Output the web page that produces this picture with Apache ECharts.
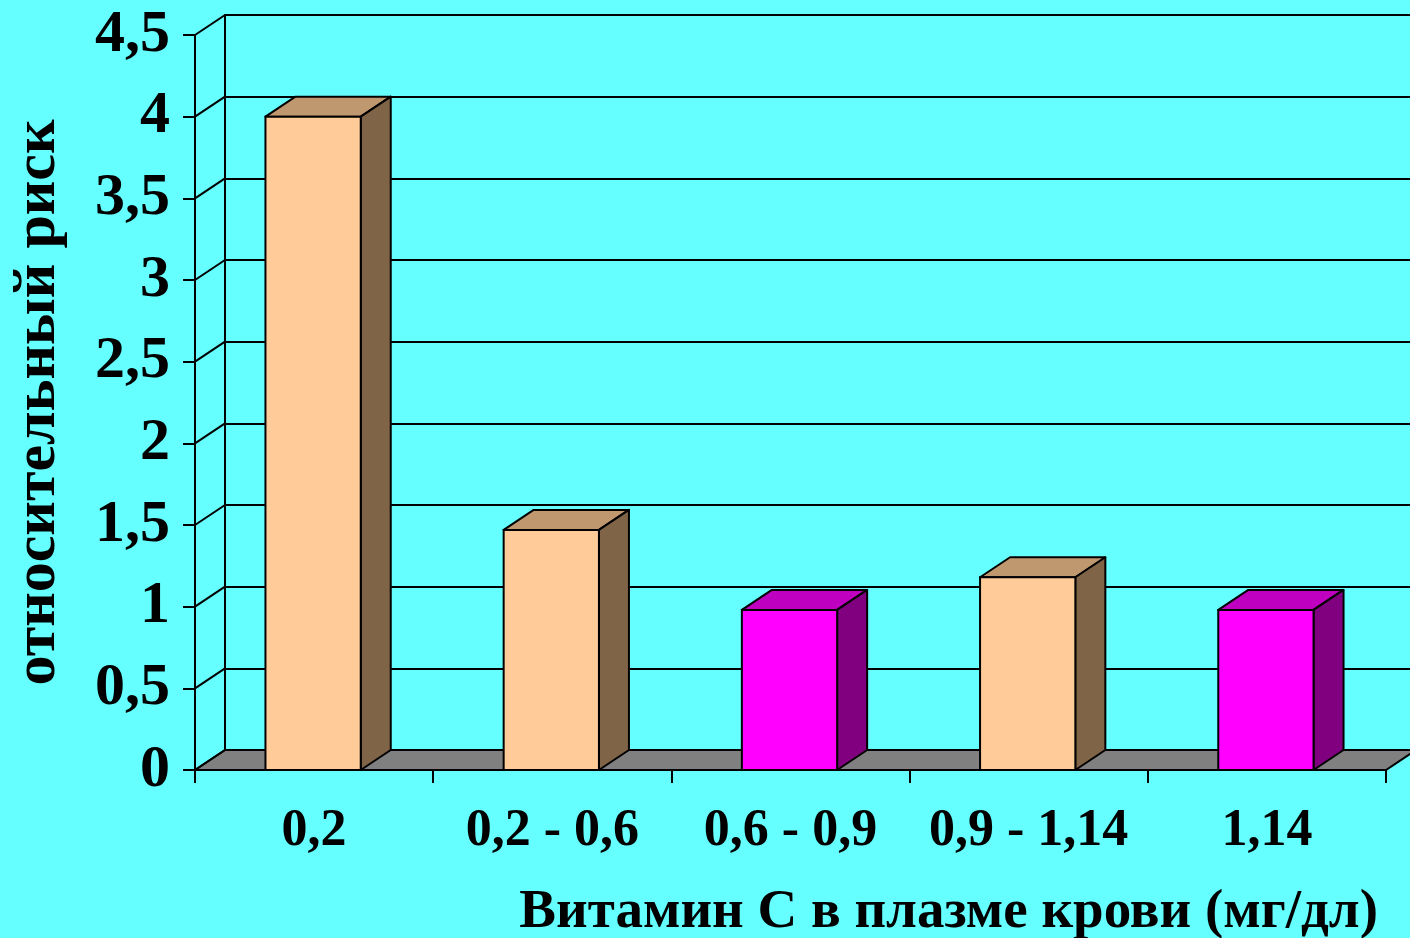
<!DOCTYPE html>
<html>
<head>
<meta charset="utf-8">
<script src="https://cdn.jsdelivr.net/npm/echarts@6/dist/echarts.min.js"></script>
<style>
  html, body { margin: 0; padding: 0; background: #66ffff; }
  #chart { width: 1410px; height: 938px; }
</style>
</head>
<body>
<div id="chart"></div>
<script>
// Plasma vitamin C groups and the relative risk in each
const categories = ['0,2', '0,2 - 0,6', '0,6 - 0,9', '0,9 - 1,14', '1,14'];
const relativeRisk = [4.0, 1.47, 0.98, 1.18, 0.98];
const highlighted = [false, false, true, false, true];
const yTicks = [0, 0.5, 1, 1.5, 2, 2.5, 3, 3.5, 4, 4.5];
const xTitle = 'Витамин С в плазме крови (мг/дл)';
const yTitle = 'относительный риск';

// pseudo-3D depth of the bars and of the back wall, in pixels
const DEPTH_X = 30;
const DEPTH_Y = -20;
const FONT = '"Liberation Serif", "Times New Roman", serif';
const INK = '#000000';
const palettes = {
  normal: { front: '#ffcc99', top: '#c09870', side: '#806448' },
  accent: { front: '#ff00ff', top: '#c000c0', side: '#800080' }
};

const fmt = v => String(v).replace('.', ',');

// floor of the plot box
function renderFloor(params, api) {
  const cs = params.coordSys;
  const y0 = api.coord([0, 0])[1];
  const xl = cs.x, xr = cs.x + cs.width;
  return {
    type: 'polygon',
    shape: { points: [[xl, y0], [xr, y0], [xr + DEPTH_X, y0 + DEPTH_Y], [xl + DEPTH_X, y0 + DEPTH_Y]] },
    style: { fill: '#808080', stroke: INK, lineWidth: 2 }
  };
}

// slanted links from the front value axis to the back wall
function renderLink(params, api) {
  const cs = params.coordSys;
  const y = api.coord([0, api.value(1)])[1];
  return {
    type: 'line',
    shape: { x1: cs.x, y1: y, x2: cs.x + DEPTH_X, y2: y + DEPTH_Y },
    style: { stroke: INK, lineWidth: 2 }
  };
}

// box-shaped bar: front face, top and right side
function renderBar(params, api) {
  const i = api.value(0);
  const v = api.value(1);
  const top = api.coord([i, v]);
  const base = api.coord([i, 0]);
  const w = api.size([1, 0])[0] * 0.4;
  const x0 = top[0] - w / 2 - 1;
  const x1 = x0 + w;
  const yt = top[1];
  const yb = base[1];
  const pal = highlighted[i] ? palettes.accent : palettes.normal;
  return {
    type: 'group',
    children: [
      {
        type: 'polygon',
        shape: { points: [[x0, yt], [x1, yt], [x1 + DEPTH_X, yt + DEPTH_Y], [x0 + DEPTH_X, yt + DEPTH_Y]] },
        style: { fill: pal.top, stroke: INK, lineWidth: 2, lineJoin: 'round' }
      },
      {
        type: 'polygon',
        shape: { points: [[x1, yt], [x1 + DEPTH_X, yt + DEPTH_Y], [x1 + DEPTH_X, yb + DEPTH_Y], [x1, yb]] },
        style: { fill: pal.side, stroke: INK, lineWidth: 2, lineJoin: 'round' }
      },
      {
        type: 'rect',
        shape: { x: x0, y: yt, width: w, height: yb - yt },
        style: { fill: pal.front, stroke: INK, lineWidth: 2 }
      }
    ]
  };
}

const chart = echarts.init(document.getElementById('chart'), null, { renderer: 'canvas' });

chart.setOption({
  backgroundColor: '#66ffff',
  animation: false,
  title: {
    text: xTitle,
    right: 32,
    top: 885,
    padding: 0,
    textStyle: { fontFamily: FONT, fontSize: 55, fontWeight: 'bold', color: INK }
  },
  grid: [
    { left: 195, top: 35, width: 1191, height: 735, containLabel: false, outerBoundsMode: 'none' },
    { left: 195 + DEPTH_X, top: 35 + DEPTH_Y, width: 1191, height: 735, containLabel: false, outerBoundsMode: 'none' }
  ],
  xAxis: [
    {
      type: 'category',
      gridIndex: 0,
      data: categories,
      axisLine: { lineStyle: { color: INK, width: 2 } },
      axisTick: { show: true, length: 13, lineStyle: { color: INK, width: 2 } },
      axisLabel: {
        interval: 0, margin: 36, color: INK,
        fontFamily: FONT, fontSize: 52, fontWeight: 'bold'
      },
      splitLine: { show: false }
    },
    {
      type: 'category',
      gridIndex: 1,
      data: categories,
      show: false
    }
  ],
  yAxis: [
    {
      type: 'value',
      gridIndex: 0,
      min: 0, max: 4.5, interval: 0.5,
      axisLine: { show: true, lineStyle: { color: INK, width: 2 } },
      axisTick: { show: true, length: 12, lineStyle: { color: INK, width: 2 } },
      axisLabel: {
        margin: 25, color: INK,
        fontFamily: FONT, fontSize: 60, fontWeight: 'bold',
        padding: [14, 0, 0, 0],
        formatter: fmt
      },
      splitLine: { show: false },
      name: yTitle,
      nameLocation: 'middle',
      nameRotate: 90,
      nameGap: 127,
      nameTextStyle: { fontFamily: FONT, fontSize: 60, fontWeight: 'bold', color: INK }
    },
    {
      type: 'value',
      gridIndex: 1,
      min: 0, max: 4.5, interval: 0.5,
      axisLine: { show: true, lineStyle: { color: INK, width: 2 } },
      axisTick: { show: false },
      axisLabel: { show: false },
      splitLine: { show: true, lineStyle: { color: INK, width: 2 } }
    }
  ],
  series: [
    {
      type: 'custom',
      xAxisIndex: 0, yAxisIndex: 0,
      renderItem: renderFloor,
      data: [[0, 0]],
      silent: true
    },
    {
      type: 'custom',
      xAxisIndex: 0, yAxisIndex: 0,
      renderItem: renderLink,
      data: yTicks.map(v => [0, v]),
      silent: true
    },
    {
      type: 'custom',
      xAxisIndex: 0, yAxisIndex: 0,
      renderItem: renderBar,
      data: relativeRisk.map((v, i) => [i, v])
    }
  ]
});
</script>
</body>
</html>
